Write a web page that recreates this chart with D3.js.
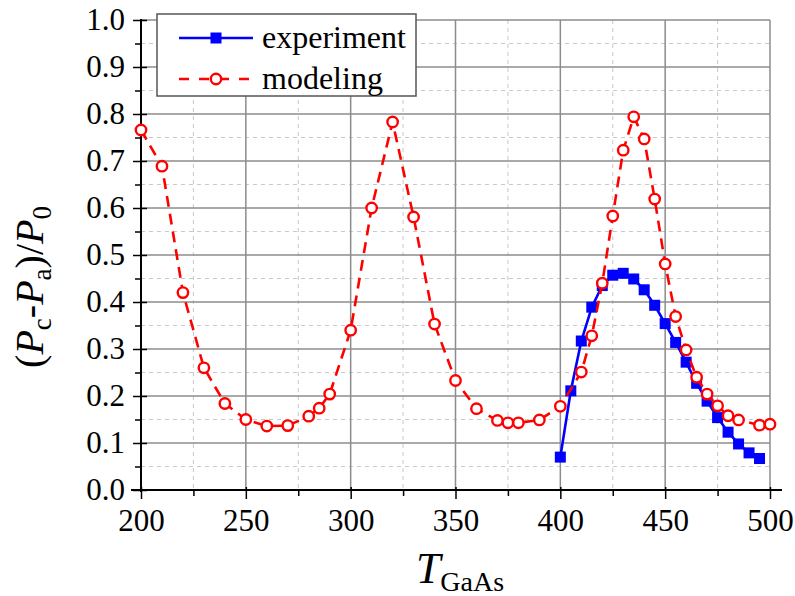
<!DOCTYPE html>
<html>
<head>
<meta charset="utf-8">
<script src="https://cdn.jsdelivr.net/npm/d3@7"></script>
<style>
  body { margin: 0; background: #fff; }
  svg text { font-family: "Liberation Serif", "Times New Roman", serif !important; }
</style>
</head>
<body>
<div id="chart"></div>
<script>
// modeling curve (open red circles)
var modelT = [200, 210, 220, 230, 240, 250, 260, 270, 280, 285, 290, 300, 310, 320, 330, 340, 350, 360,
  370, 375, 380, 390, 400, 410, 415, 420, 425, 430, 435, 440, 445, 450, 455, 460, 465, 470, 475, 480, 485, 495, 500];
var modelV = [0.766, 0.689, 0.42, 0.26, 0.184, 0.15, 0.136, 0.137, 0.157, 0.174, 0.204, 0.34, 0.6, 0.783, 0.581, 0.353, 0.233, 0.173,
  0.148, 0.143, 0.143, 0.149, 0.178, 0.251, 0.328, 0.44, 0.583, 0.723, 0.794, 0.747, 0.619, 0.481, 0.369, 0.298, 0.24, 0.204, 0.179, 0.158, 0.149, 0.138, 0.14];
// experiment (filled blue squares)
var expT = [400, 405, 410, 415, 420, 425, 430, 435, 440, 445, 450, 455, 460, 465, 470, 475, 480, 485, 490, 495];
var expV = [0.07, 0.211, 0.317, 0.389, 0.435, 0.457, 0.461, 0.449, 0.426, 0.393, 0.354, 0.314, 0.272, 0.227, 0.189, 0.154, 0.123, 0.098, 0.079, 0.067];

var xTicks = [200, 250, 300, 350, 400, 450, 500];
var yTicks = [0, 0.1, 0.2, 0.3, 0.4, 0.5, 0.6, 0.7, 0.8, 0.9, 1.0];
var legendNames = ["experiment", "modeling"];

var w = 795, h = 596;
var padL = 141, padR = 770, padT = 20, padB = 490;

var svg = d3.select("#chart").append("svg").attr("width", w).attr("height", h);

var x = d3.scaleLinear().domain([200, 500]).range([padL, padR]);
var y = d3.scaleLinear().domain([0, 1]).range([padB, padT]);

var xMinor = d3.range(225, 500, 50);
var yMinor = d3.range(0.05, 1, 0.1);

// grid
var grid = svg.append("g");
grid.selectAll(".xm").data(xMinor).enter().append("line")
  .attr("x1", d => x(d)).attr("x2", d => x(d)).attr("y1", padT).attr("y2", padB)
  .attr("stroke", "#c8c8c8").attr("stroke-width", 1).attr("stroke-dasharray", "4,4");
grid.selectAll(".ym").data(yMinor).enter().append("line")
  .attr("y1", d => y(d)).attr("y2", d => y(d)).attr("x1", padL).attr("x2", padR)
  .attr("stroke", "#c8c8c8").attr("stroke-width", 1).attr("stroke-dasharray", "4,4");
grid.selectAll(".xM").data(xTicks.slice(1)).enter().append("line")
  .attr("x1", d => x(d)).attr("x2", d => x(d)).attr("y1", padT).attr("y2", padB)
  .attr("stroke", "#8c8c8c").attr("stroke-width", 1.5);
grid.selectAll(".yM").data(yTicks.slice(1)).enter().append("line")
  .attr("y1", d => y(d)).attr("y2", d => y(d)).attr("x1", padL).attr("x2", padR)
  .attr("stroke", "#8c8c8c").attr("stroke-width", 1.5);

// axes
var xAxis = svg.append("g").attr("transform", "translate(0," + padB + ")")
  .call(d3.axisBottom(x).tickValues(xTicks).tickSize(9).tickPadding(10).tickFormat(d3.format("d")));
svg.append("g").attr("transform", "translate(0," + padB + ")")
  .call(d3.axisBottom(x).tickValues(xMinor).tickSize(6).tickFormat(""))
  .select(".domain").remove();
var yAxis = svg.append("g").attr("transform", "translate(" + padL + ",0)")
  .call(d3.axisLeft(y).tickValues(yTicks).tickSize(8).tickPadding(8).tickFormat(d3.format(".1f")));
svg.append("g").attr("transform", "translate(" + padL + ",0)")
  .call(d3.axisLeft(y).tickValues(yMinor).tickSize(6).tickFormat(""))
  .select(".domain").remove();

// major ticks also reach a little inside the plot
xAxis.selectAll(".tick line").attr("y1", -3);
yAxis.selectAll(".tick line").attr("x1", 6);

svg.selectAll(".domain").attr("stroke", "#000").attr("stroke-width", 2);
svg.selectAll(".tick line").attr("stroke", "#000").attr("stroke-width", 1.5);
svg.selectAll("g").attr("font-family", null);
svg.selectAll(".tick text").attr("font-size", 31).attr("fill", "#000")
  .style("font-family", "'Liberation Serif', serif");
xAxis.select(".domain").attr("d", "M" + (padL - 10) + ",0H" + (padR + 12));
yAxis.select(".domain").attr("d", "M0," + (padB + 2) + "V" + (padT - 1));

// series
var model = modelT.map((t, i) => [t, modelV[i]]);
var exper = expT.map((t, i) => [t, expV[i]]);
var line = d3.line().x(d => x(d[0])).y(d => y(d[1]));

svg.append("path").datum(exper).attr("d", line)
  .attr("fill", "none").attr("stroke", "#0000ff").attr("stroke-width", 2.6);
svg.selectAll(".sq").data(exper).enter().append("rect")
  .attr("x", d => x(d[0]) - 5.5).attr("y", d => y(d[1]) - 5.5)
  .attr("width", 11).attr("height", 11).attr("fill", "#0000ff");

svg.append("path").datum(model).attr("d", line)
  .attr("fill", "none").attr("stroke", "#ff0000").attr("stroke-width", 2.6)
  .attr("stroke-dasharray", "11,7");
svg.selectAll(".ci").data(model).enter().append("circle")
  .attr("cx", d => x(d[0])).attr("cy", d => y(d[1])).attr("r", 5.2)
  .attr("fill", "#fff").attr("stroke", "#ff0000").attr("stroke-width", 2.4);

// legend
var lg = svg.append("g");
lg.append("rect").attr("x", 157).attr("y", 14).attr("width", 259).attr("height", 82)
  .attr("fill", "#fff").attr("stroke", "#555").attr("stroke-width", 1.5);
lg.append("line").attr("x1", 179).attr("x2", 253).attr("y1", 38).attr("y2", 38)
  .attr("stroke", "#0000ff").attr("stroke-width", 2.6);
lg.append("rect").attr("x", 216 - 5.5).attr("y", 38 - 5.5).attr("width", 11).attr("height", 11).attr("fill", "#0000ff");
lg.append("line").attr("x1", 179).attr("x2", 253).attr("y1", 79).attr("y2", 79)
  .attr("stroke", "#ff0000").attr("stroke-width", 2.6).attr("stroke-dasharray", "10,10");
lg.append("circle").attr("cx", 216).attr("cy", 79).attr("r", 5.2)
  .attr("fill", "#fff").attr("stroke", "#ff0000").attr("stroke-width", 2.4);
lg.selectAll(".lt").data(legendNames).enter().append("text")
  .attr("x", 262).attr("y", (d, i) => 48 + i * 41)
  .attr("font-size", 32).text(d => d);

// axis titles
var xt = svg.append("text").attr("x", 460).attr("y", 583).attr("text-anchor", "middle").attr("font-size", 44);
xt.append("tspan").attr("font-style", "italic").text("T");
xt.append("tspan").attr("font-size", 28).attr("dy", 8).text("GaAs");

var yt = svg.append("text").attr("transform", "translate(43," + 287 + ") rotate(-90)")
  .attr("text-anchor", "middle").attr("font-size", 40);
yt.append("tspan").text("(");
yt.append("tspan").attr("font-style", "italic").text("P");
yt.append("tspan").attr("font-size", 27).attr("dy", 8).text("c");
yt.append("tspan").attr("dy", -8).text("-");
yt.append("tspan").attr("font-style", "italic").text("P");
yt.append("tspan").attr("font-size", 27).attr("dy", 8).text("a");
yt.append("tspan").attr("dy", -8).text(")/");
yt.append("tspan").attr("font-style", "italic").text("P");
yt.append("tspan").attr("font-size", 27).attr("dy", 8).text("0");
</script>
</body>
</html>
